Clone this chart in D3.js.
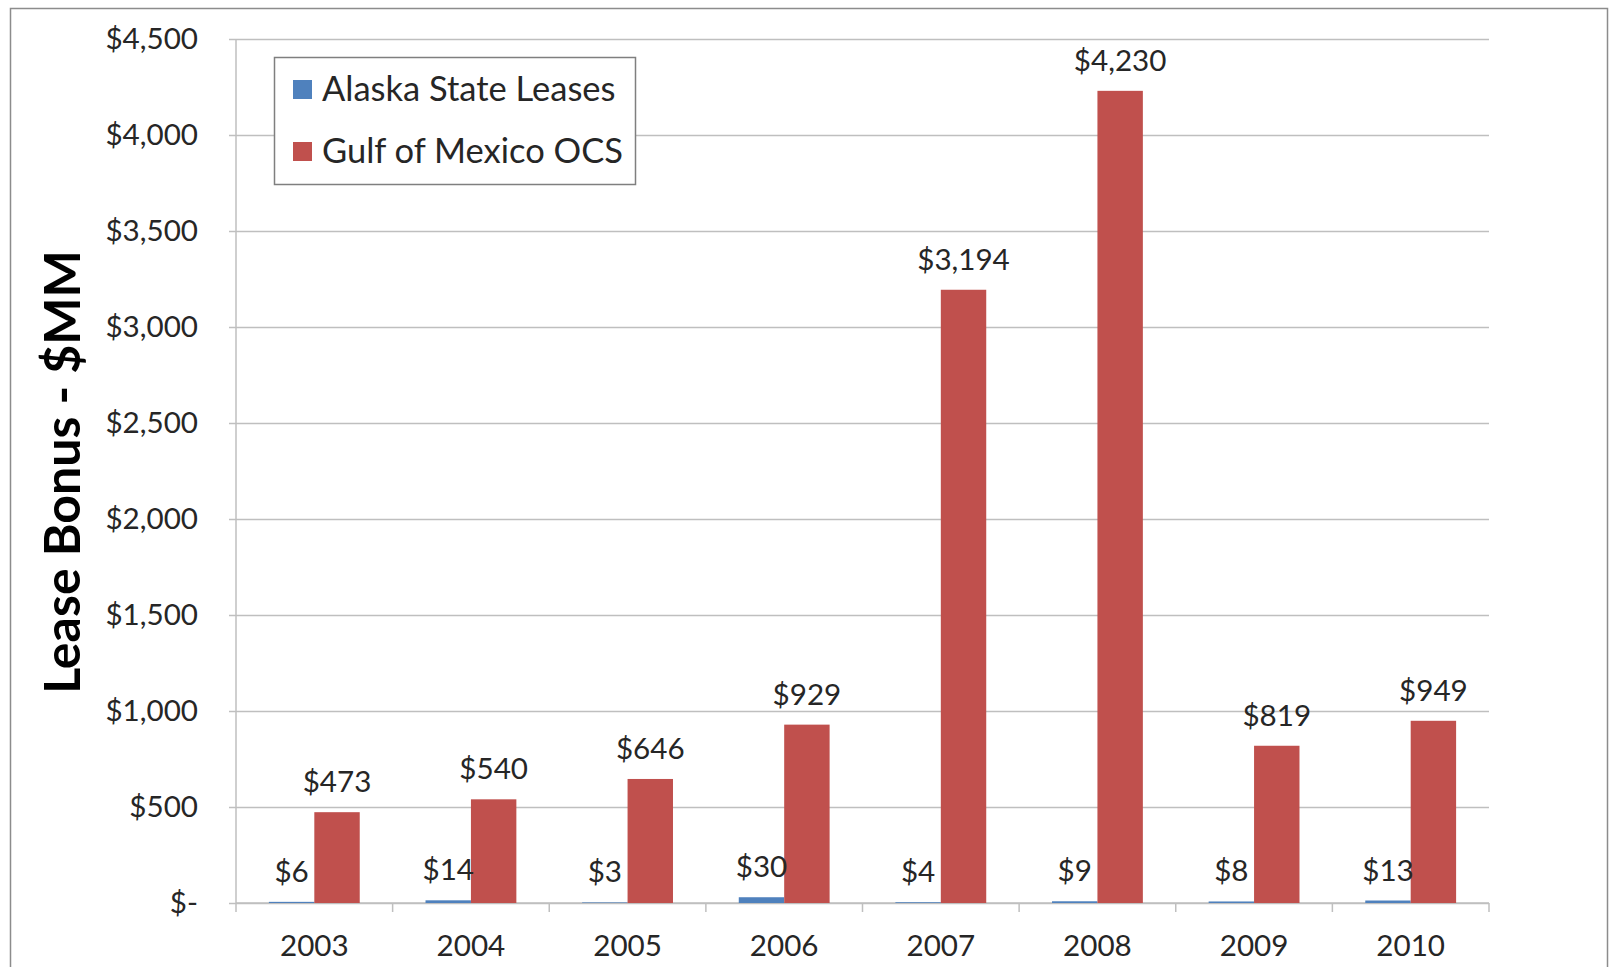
<!DOCTYPE html>
<html><head><meta charset="utf-8">
<script src="https://cdnjs.cloudflare.com/ajax/libs/d3/7.8.5/d3.min.js"></script>
<style>
html,body{margin:0;padding:0;background:#fff;}
svg{display:block;font-family:Lato,"Open Sans",sans-serif;}
</style></head><body>
<svg id="chart" width="1611" height="967"></svg>
<script>
const years = ["2003","2004","2005","2006","2007","2008","2009","2010"];
const seriesNames = ["Alaska State Leases","Gulf of Mexico OCS"];
const alaska = [6,14,3,30,4,9,8,13];
const gulf = [473,540,646,929,3194,4230,819,949];
const yTicks = [0,500,1000,1500,2000,2500,3000,3500,4000,4500];
const colors = ["#4F81BD","#C0504D"];

(function(){
const svg = d3.select("#chart");
const pL = 236, pR = 1489, pT = 39, pB = 903;
const fs = 29.6;

svg.append("rect").attr("x",10.5).attr("y",8.5).attr("width",1597).attr("height",970)
  .attr("fill","none").attr("stroke","#8c8c8c").attr("stroke-width",1.5);

const x0 = d3.scaleBand().domain(years).range([pL,pR]).padding(0);
const x1 = d3.scaleBand().domain(seriesNames).range([x0.bandwidth()*0.21, x0.bandwidth()*0.79]).padding(0);
const y = d3.scaleLinear().domain([0,4500]).range([pB,pT]);

const fmt = v => v===0 ? "$-" : "$" + d3.format(",")(v);

const yAxis = svg.append("g").attr("transform",`translate(${pL},0)`)
  .call(d3.axisLeft(y).tickValues(yTicks).tickSize(-(pR-pL)).tickPadding(38).tickFormat(fmt));
yAxis.select(".domain").remove();
yAxis.selectAll(".tick line").attr("stroke","#bfbfbf").attr("stroke-width",1.5).attr("x1",-7);
yAxis.selectAll(".tick text").attr("font-size",fs).attr("fill","#262626").attr("font-family","Lato");
svg.append("line").attr("x1",pL).attr("x2",pL).attr("y1",pT).attr("y2",pB)
  .attr("stroke","#bfbfbf").attr("stroke-width",1.5);

const xAxisG = svg.append("g").attr("transform",`translate(0,${pB})`);
xAxisG.append("line").attr("x1",pL).attr("x2",pR).attr("stroke","#bfbfbf").attr("stroke-width",1.5);
const bounds = years.map(d=>x0(d)).concat([pR]);
xAxisG.selectAll("line.tk").data(bounds).join("line").attr("class","tk")
  .attr("x1",d=>d).attr("x2",d=>d).attr("y1",0).attr("y2",9).attr("stroke","#bfbfbf").attr("stroke-width",1.5);
xAxisG.selectAll("text").data(years).join("text")
  .attr("x",d=>x0(d)+x0.bandwidth()/2).attr("y",53).attr("text-anchor","middle")
  .attr("font-size",fs).attr("fill","#262626").text(d=>d);

const data = years.map((yr,i)=>({year:yr, vals:[alaska[i],gulf[i]]}));
const groups = svg.append("g").selectAll("g").data(data).join("g")
  .attr("transform",d=>`translate(${x0(d.year)},0)`);
groups.selectAll("rect").data(d=>d.vals.map((v,j)=>({v,j}))).join("rect")
  .attr("x",d=>x1(seriesNames[d.j])).attr("width",x1.bandwidth())
  .attr("y",d=>y(d.v)).attr("height",d=>y(0)-y(d.v))
  .attr("fill",d=>colors[d.j]);
groups.selectAll("text").data(d=>d.vals.map((v,j)=>({v,j}))).join("text")
  .attr("x",d=>x1(seriesNames[d.j])+x1.bandwidth()/2)
  .attr("y",d=>y(d.v)-20).attr("text-anchor","middle")
  .attr("font-size",fs).attr("fill","#262626").text(d=>"$"+d3.format(",")(d.v));

const lg = svg.append("g");
lg.append("rect").attr("x",274.5).attr("y",57.5).attr("width",361).attr("height",127)
  .attr("fill","#fff").attr("stroke","#7f7f7f").attr("stroke-width",1.5);
seriesNames.forEach((s,i)=>{
  lg.append("rect").attr("x",293).attr("y",80+i*62).attr("width",19).attr("height",19).attr("fill",colors[i]);
  lg.append("text").attr("x",322).attr("y",101+i*62).attr("font-size",34.5).attr("fill","#262626").text(s);
});

svg.append("text").attr("transform","translate(80,472) rotate(-90)")
  .attr("text-anchor","middle").attr("font-size",50).attr("font-weight","bold").attr("fill","#000")
  .text("Lease Bonus - $MM");
})();
</script>
</body></html>
